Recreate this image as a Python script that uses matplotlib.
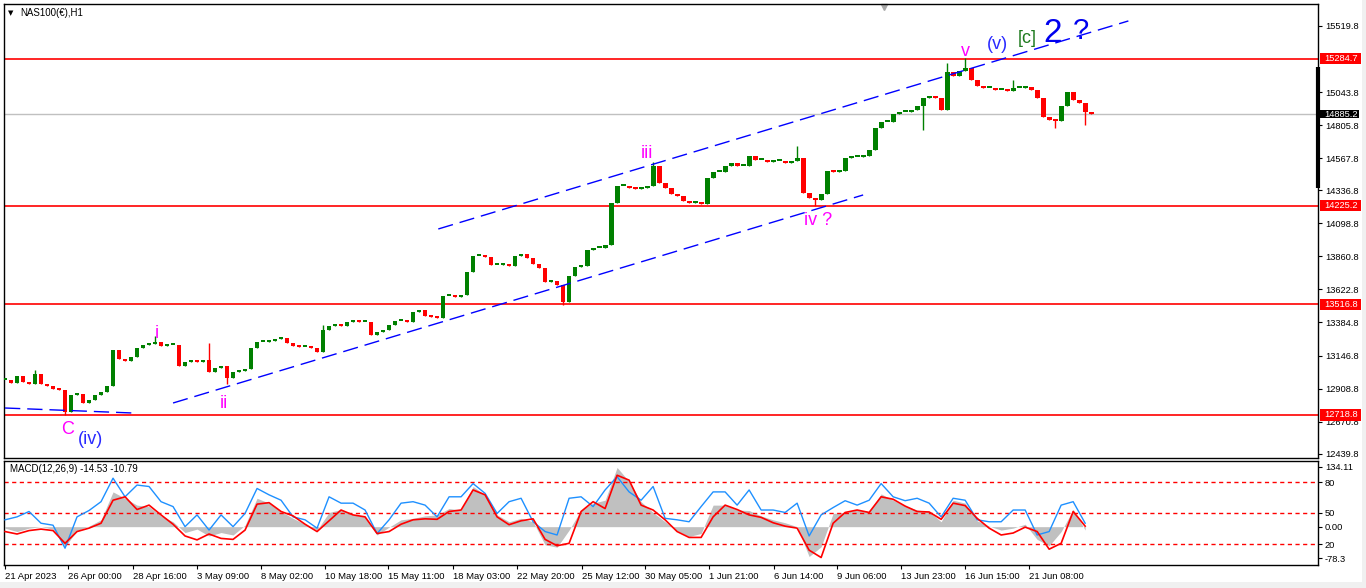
import numpy as np
import matplotlib.pyplot as plt
import matplotlib.transforms as mtransforms
from matplotlib.patches import Rectangle

plt.rcParams['font.family'] = ['Liberation Sans', 'DejaVu Sans']

# hourly NAS100 closes (one value per ~6 bars)
closes = [
    12971, 12949, 13000, 12957, 12942, 13014, 12942, 12928, 12906, 12899,
    12741, 12863, 12870, 12805, 12827, 12863, 12885, 12928, 13187, 13122,
    13108, 13137, 13201, 13223, 13230, 13245, 13216, 13223, 13223, 13072,
    13101, 13108, 13101, 13115, 13029, 13057, 13072, 12985, 13029, 13036,
    13050, 13201, 13245, 13245, 13252, 13266, 13273, 13237, 13216, 13209,
    13209, 13201, 13173, 13331, 13360, 13367, 13360, 13389, 13396, 13389,
    13389, 13295, 13317, 13331, 13367, 13396, 13396, 13389, 13461, 13475,
    13432, 13425, 13417, 13576, 13576, 13569, 13583, 13749, 13864, 13864,
    13857, 13799, 13799, 13806, 13792, 13864, 13878, 13849, 13806, 13777,
    13677, 13684, 13655, 13533, 13720, 13785, 13792, 13907, 13921, 13921,
    13943, 14245, 14368, 14368, 14353, 14346, 14353, 14368, 14512, 14389,
    14353, 14310, 14296, 14260, 14245, 14253, 14238, 14425, 14469, 14469,
    14512, 14533, 14512, 14512, 14584, 14555, 14555, 14541, 14548, 14548,
    14533, 14548, 14569, 14317, 14281, 14267, 14310, 14476, 14469, 14476,
    14569, 14577, 14577, 14584, 14627, 14785, 14829, 14829, 14886, 14901,
    14901, 14915, 14944, 15001, 15016, 15001, 14915, 15189, 15160, 15196,
    15217, 15131, 15088, 15073, 15073, 15059, 15059, 15052, 15073, 15073,
    15081, 15059, 15001, 14865, 14843, 14836, 14944, 15045, 14987, 14965,
    14901, 14885,
]
# long wicks (bar, extreme price)
spike_bar = [5, 10, 25, 34, 37, 53, 93, 108, 132, 135, 153, 157, 160, 168, 175, 180]
spike_price = [13043, 12719, 13288, 13237, 12942, 13367, 13511, 14541, 14656,
               14224, 14771, 15253, 15289, 15131, 14785, 14807]

# MACD panel, one value per 2 bars
macd_blue = [
    14, 20, 31, 7, 3, -44, 20, 33, 51, 99,
    61, 85, 82, 51, 41, 0, 24, -7, 24, 0,
    27, 78, 65, 54, 20, 14, -3, 61, 48, 48,
    34, -14, 14, 48, 51, 44, 20, 61, 61, 88,
    68, 27, 51, 58, 10, -10, -17, 58, 61, 41,
    75, 102, 71, 54, 82, 17, 14, 10, 41, 71,
    71, 44, 75, 34, 34, 29, 48, -19, 24, 39,
    53, 44, 54, 88, 61, 53, 58, 48, 20, 58,
    54, 14, 10, 10, 34, 34, -17, -10, 44, 51,
    7,
]
macd_hist = [
    -3, -10, -3, 0, -5, -41, -8, 1, 14, 71,
    58, 44, 41, 22, 10, -12, -5, -19, -12, -17,
    3, 58, 48, 31, 17, 5, -7, 29, 35, 24,
    20, -17, -1, 14, 17, 22, 24, 37, 34, 82,
    65, 24, 10, 17, 10, -37, -42, -7, 34, 48,
    54, 121, 92, 51, 29, 10, -8, -20, -14, 44,
    44, 34, 33, 22, 14, 8, 0, -61, -41, 27,
    29, 34, 31, 67, 54, 42, 34, 31, 10, 54,
    48, 12, 1, -7, -3, 5, -26, -39, -10, 35,
    -7,
]
macd_signal = [
    -10, -15, -8, -5, -8, -34, -10, -3, 7, 54,
    61, 35, 44, 24, 5, -19, -27, -15, -24, -26,
    -7, 46, 49, 31, 22, 5, -10, 12, 34, 24,
    20, -14, -10, 5, 14, 16, 15, 31, 34, 75,
    65, 20, 4, 12, 16, -26, -39, -34, 31, 51,
    37, 105, 95, 44, 34, 14, -10, -22, -22, 20,
    44, 35, 24, 19, 8, 1, -3, -48, -63, 7,
    29, 34, 29, 61, 56, 42, 31, 30, 15, 48,
    43, 17, -3, -17, -13, -1, -10, -46, -34, 31,
    1,
]
macd_levels = [90.7, 28, -36]
macd_tick_vals = [122, 90.7, 28, 0, -36, -65]
macd_tick_text = ['134.11', '80', '50', '0.00', '20', '-78.3']

red_levels = [15284.7, 14225.2, 13516.8, 12718.8]
last_price = 14885.2
price_ticks = [15519.8, 15043.8, 14805.8, 14567.8, 14336.8, 14098.8, 13860.8,
               13622.8, 13384.8, 13146.8, 12908.8, 12670.8, 12439.8]

time_labels = ['21 Apr 2023', '26 Apr 00:00', '28 Apr 16:00', '3 May 09:00',
               '8 May 02:00', '10 May 18:00', '15 May 11:00', '18 May 03:00',
               '22 May 20:00', '25 May 12:00', '30 May 05:00', '1 Jun 21:00',
               '6 Jun 14:00', '9 Jun 06:00', '13 Jun 23:00', '16 Jun 15:00',
               '21 Jun 08:00']
time_bars = [0, 10.5, 21.3, 32, 42.7, 53.3, 63.9, 74.7, 85.4, 96.1, 106.7,
             117.3, 128.1, 138.6, 149.3, 160, 170.7]

upper_chan_x, upper_chan_y = [72.2, 187.2], [14058, 15556]
lower_chan_x, lower_chan_y = [28, 143], [12805, 14303]
base_x, base_y = [0, 21.3], [12769, 12733]
range_bar = [15224, 14353]

W, H = 1366, 588
fig = plt.figure(figsize=(W / 100, H / 100), dpi=100)
fig.patch.set_facecolor('white')
ax = fig.add_axes([4 / W, 1 - 458 / H, 1314 / W, 454 / H])
mx = fig.add_axes([4 / W, 1 - 565 / H, 1314 / W, 104 / H], sharex=ax)

# candles
c = np.array(closes, float)
o = np.r_[c[0], c[:-1]]
b_lo, b_hi = np.minimum(o, c), np.maximum(o, c)
lo, hi = b_lo.copy(), b_hi.copy()
for i, p in zip(spike_bar, spike_price):
    hi[i] = max(hi[i], p)
    lo[i] = min(lo[i], p)
cols = np.where(c >= o, '#008000', '#ff0000')
xb = np.arange(len(c))
ax.vlines(xb, lo, hi, colors=cols, lw=1, zorder=3)
ax.bar(xb, np.maximum(b_hi - b_lo, 12), bottom=b_lo, width=0.8, color=cols, lw=0, zorder=3)

for lvl in red_levels:
    ax.axhline(lvl, color='#ff0000', lw=1.2, zorder=2)
ax.axhline(last_price, color='#c0c0c0', lw=1, zorder=1)

dash = (0, (11, 5))
ax.plot(upper_chan_x, upper_chan_y, color='#0000ff', lw=1, ls=dash, zorder=4)
ax.plot(lower_chan_x, lower_chan_y, color='#0000ff', lw=1, ls=dash, zorder=4)
ax.plot(base_x, base_y, color='#0000ff', lw=1, ls=dash, zorder=4)

mag = '#ff00ff'
wave = dict(ha='center', va='center', fontsize=13, zorder=5)
ax.text(10.5, 12611, 'C', color=mag, **wave)
ax.text(14.2, 12539, '(iv)', color='#2a2aff', **wave)
ax.text(25.3, 13302, 'i', color=mag, **wave)
ax.text(36.5, 12798, 'ii', color=mag, **wave)
ax.text(107, 14605, 'iii', color=mag, **wave)
ax.text(135.5, 14116, 'iv ?', color=mag, **wave)
ax.text(160, 15333, 'v', color=mag, **wave)
ax.text(165.3, 15383, '(v)', color='#2a2aff', **wave)
ax.text(170.3, 15433, '[c]', color='#1e7a1e', **wave)
ax.text(174.5, 15469, '2', color='#0000ee', ha='center', va='center', fontsize=24, zorder=5)
ax.text(179.3, 15482, '?', color='#0000ee', ha='center', va='center', fontsize=21, zorder=5)

ax.set_xlim(-0.17, 218.8)
ax.set_ylim(12409, 15678)
ax.yaxis.tick_right()
ax.set_yticks(price_ticks)
ax.set_yticklabels([f'{t:.1f}' for t in price_ticks])
ax.tick_params(axis='y', direction='out', length=3, width=0.8, pad=2, labelsize=6.7)
ax.tick_params(axis='x', bottom=False, labelbottom=False)

trans = mtransforms.blended_transform_factory(ax.transAxes, ax.transData)
for lvl in red_levels:
    ax.add_patch(Rectangle((1.0015, lvl - 40), 0.0312, 80, transform=trans,
                           fc='#ff0000', ec='none', clip_on=False, zorder=6))
    ax.text(1.0045, lvl, f'{lvl:.1f}', transform=trans, color='white', fontsize=6.7,
            ha='left', va='center', clip_on=False, zorder=7)
ax.add_patch(Rectangle((1.0015, last_price - 30), 0.0295, 60, transform=trans,
                       fc='black', ec='none', clip_on=False, zorder=6))
ax.text(1.0045, last_price, f'{last_price:.1f}', transform=trans, color='white',
        fontsize=6.7, ha='left', va='center', clip_on=False, zorder=7)
ax.plot([1.0, 1.0], range_bar, transform=trans, color='black', lw=3,
        solid_capstyle='butt', clip_on=False, zorder=6)
ax.plot([0.6697], [0.994], transform=ax.transAxes, marker='v', color='#a8a8a8',
        ms=5, clip_on=False)

# MACD
xm = np.arange(len(macd_hist)) * 2
mx.fill_between(xm, 0, macd_hist, color='#c0c0c0', lw=0, zorder=1)
mx.plot(xm, macd_blue, color='#1e90ff', lw=1, zorder=3)
mx.plot(xm, macd_signal, color='#ff0000', lw=1.2, zorder=4)
for lvl in macd_levels:
    mx.axhline(lvl, color='#ff0000', lw=1, ls=(0, (3, 2.5)), zorder=2)
mx.set_ylim(-78.3, 134.11)
mx.yaxis.tick_right()
mx.set_yticks(macd_tick_vals)
mx.set_yticklabels(macd_tick_text)
mx.tick_params(axis='y', direction='out', length=3, width=0.8, pad=2, labelsize=6.7)
mx.set_xticks(time_bars)
mx.set_xticklabels(time_labels)
for t in mx.get_xticklabels():
    t.set_ha('left')
mx.tick_params(axis='x', direction='out', length=3, width=0.8, pad=2, labelsize=6.8)

for a in (ax, mx):
    for s in a.spines.values():
        s.set_color('black')
        s.set_linewidth(1)

fig.text(8 / W, 1 - 13 / H, '\u25bc', fontsize=5, va='center', family='DejaVu Sans')
fig.text(20 / W, 1 - 13 / H, 'NAS100(\u20ac),H1', fontsize=7, va='center')
fig.text(10 / W, 1 - 469 / H, 'MACD(12,26,9) -14.53 -10.79', fontsize=7, va='center')

fig.patches.append(Rectangle((0, 0), 1, 6 / H, transform=fig.transFigure,
                             fc='#f0f0f0', ec='none', zorder=-1))
fig.patches.append(Rectangle((1362 / W, 0), 4 / W, 1, transform=fig.transFigure,
                             fc='#f0f0f0', ec='none', zorder=-1))

fig.savefig('out.png', dpi=100)
